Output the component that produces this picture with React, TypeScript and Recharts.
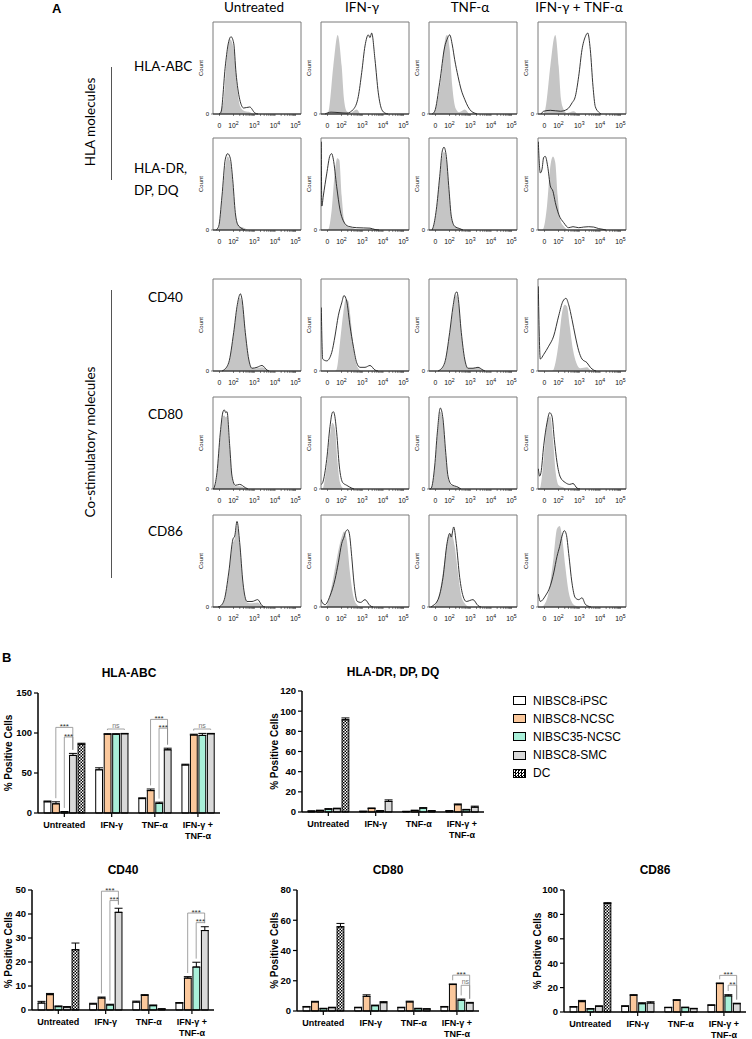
import React from 'react';
import {
  ComposedChart, BarChart, Bar, Area, Line, XAxis, YAxis, ErrorBar, Cell,
  ReferenceArea, ReferenceLine, ReferenceDot,
} from 'recharts';

const SANS = '"Liberation Sans", Arial, sans-serif';
const LATO = 'Lato, "Open Sans", sans-serif';

// ---------- panel A : flow histograms (x in display channels 0-88, y in % of max) ----------
const treatments = ['Untreated', 'IFN-γ', 'TNF-α', 'IFN-γ + TNF-α'];
const markerLabels = [['HLA-ABC'], ['HLA-DR,', 'DP, DQ'], ['CD40'], ['CD80'], ['CD86']];

const abcUntIso = [[6, 0], [10.7, 16], [14, 63], [17.3, 81], [20.7, 70], [24, 30], [27.3, 8], [32, 3], [37, 2], [40, 0]];
const abcUntStain = [[6, 0], [8, 2], [12.3, 52], [15, 75], [18, 84], [20.7, 77], [23, 45], [26.7, 16], [30.7, 6.5], [36.7, 7.6], [42, 1], [45, 0]];
const abcIfnIso = [[5, 0], [7.3, 2], [12.3, 52], [16.7, 86], [20.7, 52], [23, 16], [25.7, 3], [29, 1], [35.7, 5], [39, 0]];
const abcIfnStain = [[4, 0], [10, 2], [18, 1.5], [26, 1], [32.3, 5], [37.3, 19], [40.7, 45], [44, 74], [47.3, 86], [49, 83], [50.7, 88], [54, 59], [57.3, 23], [60.7, 5], [64, 1], [67, 0]];
const abcTnfIso = [[4, 0], [7.3, 8], [12.3, 41], [16.7, 84], [18, 86], [20.7, 70], [23.3, 30], [26.7, 6], [30, 2], [35.7, 5], [40, 0]];
const abcTnfStain = [[3, 0], [5.7, 3], [10.7, 34], [15.7, 73], [18, 81], [20.7, 86], [23.3, 75], [25.7, 59], [29, 41], [32.3, 26], [35.7, 16], [39, 8], [42.3, 3], [45.7, 1], [48, 0]];
const abcBothIso = [[5, 0], [7.3, 5], [12.3, 52], [16.3, 84], [17.3, 86], [20.7, 52], [23, 16], [25.7, 5], [29, 1], [35.7, 3], [39, 0]];
const abcBothStain = [[3, 0], [5.7, 3], [12.3, 4], [22.3, 3], [29, 5], [34, 12], [37.3, 19], [40.7, 41], [44, 70], [47.3, 84], [49.7, 88], [52.3, 70], [55, 30], [57.3, 8], [60.7, 2], [63, 0]];

const drUntIso = [[3, 0], [5.7, 2], [9, 31], [12.3, 69], [14.7, 80], [17.3, 73], [19.7, 49], [22.3, 17], [25.7, 5], [30.7, 2.5], [35, 0]];
const drUntStain = [[3, 0], [5.7, 4], [9, 37], [12.3, 77], [14.7, 83], [17.3, 78], [19.7, 55], [22.3, 19], [24.7, 6], [29, 1.5], [32, 0]];
const drIfnIso = [[6, 0], [7.3, 0.5], [10.7, 22], [14, 65], [16.3, 78], [18.3, 76], [20.7, 37], [23, 11], [25.7, 4], [32.3, 2], [38, 0]];
const drIfnStain = [[0.3, 96], [0.8, 26], [2.3, 37], [5.7, 61], [9, 81], [10.7, 83], [12.3, 77], [15.7, 47], [19, 22], [22.3, 10], [27.3, 4], [35.7, 2.5], [49, 2], [54, 0.5], [58, 0]];
const drTnfIso = [[3, 0], [4, 2], [7.3, 20], [10.7, 54], [13.3, 80], [15, 85], [17.3, 76], [20, 42], [22.3, 14], [25.7, 4], [30.7, 1.5], [34, 0]];
const drTnfStain = [[3, 0], [4, 2.5], [7.3, 22], [10.7, 58], [13.3, 86], [15, 90], [17.3, 80], [20, 44], [22.3, 15], [25.7, 4], [30.7, 1.5], [34, 0]];
const drBothIso = [[4, 0], [5.7, 2.5], [9, 26], [12.3, 69], [15, 80], [17.3, 73], [19.7, 37], [22.3, 11], [25.7, 4], [30, 0]];
const drBothStain = [[0.3, 96], [2.3, 62], [4, 66], [5.7, 79], [7.3, 80], [9.7, 69], [12.3, 48], [15, 42], [17.3, 30], [20.7, 17], [25.7, 8], [30.7, 2.5], [35, 3.6], [40.7, 2.5], [45.7, 3.2], [50.7, 3.6], [55.7, 3.2], [60.7, 1.5], [65, 0.7], [68, 0]];

const cd40UntIso = [[9, 0], [10.7, 1], [15.7, 8], [20.7, 40], [24, 67], [26.7, 80], [29, 75], [32.3, 40], [35.7, 12], [39, 3], [44, 3], [49, 4], [54, 1], [56, 0]];
const cd40UntStain = [[9, 0], [10.7, 1], [15.7, 9], [20.7, 42], [24, 70], [26.7, 83], [27.3, 84], [29, 78], [32.3, 42], [35.7, 13], [39, 3], [44, 4], [49, 6], [54, 1], [56, 0]];
const cd40IfnIso = [[14, 0], [15.7, 2], [19, 31], [22.3, 63], [24.7, 78], [27.3, 76], [29.7, 56], [32.3, 27], [35, 9], [37.3, 3], [40, 0]];
const cd40IfnStain = [[0.3, 69], [1.7, 13], [5.7, 11], [10.7, 20], [14, 38], [17.3, 60], [20.7, 74], [23, 82], [25.7, 76], [29, 49], [32.3, 27], [35.7, 9], [39, 4], [44, 4], [49, 6], [54, 1], [57, 0]];
const cd40TnfIso = [[9, 0], [10.7, 1], [15.7, 8], [20.7, 40], [24, 67], [26.7, 82], [28, 82], [29, 78], [32.3, 40], [35.7, 12], [39, 3], [44, 3], [49, 4], [54, 1], [56, 0]];
const cd40TnfStain = [[9, 0], [10.7, 1], [15.7, 9], [20.7, 42], [24, 70], [26.7, 85], [28, 86], [29, 81], [32.3, 42], [35.7, 13], [39, 3], [44, 3], [49, 4], [54, 1], [56, 0]];
const cd40BothIso = [[14, 0], [15.7, 2], [20.7, 31], [24, 63], [26.7, 72], [29, 70], [31.7, 49], [35, 23], [38.3, 9], [42.3, 3], [49, 4], [52.3, 1], [55, 0]];
const cd40BothStain = [[0.3, 92], [2.3, 13], [5.7, 18], [10.7, 27], [15.7, 38], [20.7, 60], [25, 76], [28, 79], [30.7, 72], [34, 56], [37.3, 38], [40.7, 22], [44, 13], [49, 9], [52.3, 4], [55.7, 1], [58, 0]];

const cd80UntIso = [[0.5, 0], [1.3, 2], [4, 15], [7.3, 56], [10, 79], [11.3, 80], [12.7, 78], [14, 79], [16.7, 43], [19, 12], [22.3, 3], [26.7, 3], [32.3, 1], [35, 0]];
const cd80UntStain = [[0.5, 0], [1.3, 2], [4, 18], [7.3, 61], [10, 84], [11.3, 86], [12.7, 83], [14, 84], [16.7, 47], [19, 14], [22.3, 4], [26.7, 5], [32.3, 1.5], [35, 0]];
const cd80IfnIso = [[1, 0], [2.3, 2], [5.7, 25], [9, 58], [11.3, 72], [14, 65], [16.3, 32], [19, 7], [22, 1], [25, 0]];
const cd80IfnStain = [[0.3, 5], [1.7, 7], [5.7, 32], [9, 68], [11.3, 83], [12.3, 84], [13.3, 82], [15.7, 61], [18.3, 25], [21.7, 7], [25.7, 4], [30.7, 1], [33, 0]];
const cd80TnfIso = [[1, 0], [2.3, 1], [5.7, 22], [8.3, 57], [11.3, 84], [14, 72], [16.7, 37], [19, 12], [22.3, 4], [29, 1.5], [32, 0]];
const cd80TnfStain = [[1, 0], [2.3, 1], [5.7, 25], [8.3, 61], [11.3, 88], [14, 76], [16.7, 40], [19, 14], [22.3, 5], [29, 2], [32, 0]];
const cd80BothIso = [[1, 0], [2.3, 2], [5, 25], [7.3, 54], [9.7, 76], [12.3, 79], [15, 54], [17.7, 18], [20.7, 4], [25.7, 1.5], [28, 0]];
const cd80BothStain = [[0.3, 22], [1.7, 14], [3, 18], [5.7, 47], [9, 72], [11.7, 83], [14, 79], [16.3, 54], [19, 29], [22.3, 13], [27.3, 7], [31.7, 5], [35, 6], [39, 1], [42, 0]];

const cd86UntIso = [[5, 0], [7.3, 1], [11.3, 7], [15.7, 34], [20, 70], [21.7, 74], [24, 88], [26.7, 66], [30, 23], [34, 5], [39, 4], [44.7, 5], [49, 1], [52, 0]];
const cd86UntStain = [[5, 0], [7.3, 1], [11.3, 8], [15.7, 37], [20, 74], [21.7, 77], [24, 93], [26.7, 70], [30, 26], [34, 6], [39, 6], [44.7, 8], [49, 1.5], [52, 0]];
const cd86IfnIso = [[4, 0], [5.7, 1.5], [10.7, 23], [15.7, 52], [20.7, 76], [23, 82], [25.7, 73], [29, 37], [32.3, 12], [35.7, 3], [40, 0]];
const cd86IfnStain = [[0.3, 8], [0.7, 6], [4, 2.5], [9, 12], [14, 30], [17.3, 48], [20.7, 69], [23, 76], [24.7, 82], [26.7, 84], [28.3, 80], [30.7, 55], [33, 26], [36.3, 6], [39.7, 5], [44, 8], [49, 1.5], [52, 0]];
const cd86TnfIso = [[4, 0], [5.7, 1.5], [10.7, 16], [15.7, 51], [19, 76], [22.3, 80], [25.7, 66], [29, 37], [32.3, 12], [35.7, 4], [40, 0]];
const cd86TnfStain = [[2, 0], [4, 1.5], [9, 8], [14, 32], [18, 69], [20.7, 80], [22.3, 76], [24.7, 87], [27.3, 69], [30.7, 32], [34, 12], [37.3, 6], [44, 8], [49, 1.5], [52, 0]];
const cd86BothIso = [[4, 0], [5.7, 1.5], [10.7, 16], [15.7, 55], [19, 85], [21.7, 88], [24, 77], [27.3, 44], [30.7, 16], [34, 5], [37, 1.5], [40, 0]];
const cd86BothStain = [[0.3, 14], [0.7, 12], [2.3, 6], [7.3, 12], [12.3, 23], [15.7, 37], [19, 55], [21.7, 66], [24, 77], [26.3, 83], [28.3, 79], [30.7, 58], [34, 26], [37.3, 10], [40.7, 8], [44, 10], [47.3, 3], [50, 1], [53, 0]];

const histRows = [
  [[abcUntIso, abcUntStain], [abcIfnIso, abcIfnStain], [abcTnfIso, abcTnfStain], [abcBothIso, abcBothStain]],
  [[drUntIso, drUntStain], [drIfnIso, drIfnStain], [drTnfIso, drTnfStain], [drBothIso, drBothStain]],
  [[cd40UntIso, cd40UntStain], [cd40IfnIso, cd40IfnStain], [cd40TnfIso, cd40TnfStain], [cd40BothIso, cd40BothStain]],
  [[cd80UntIso, cd80UntStain], [cd80IfnIso, cd80IfnStain], [cd80TnfIso, cd80TnfStain], [cd80BothIso, cd80BothStain]],
  [[cd86UntIso, cd86UntStain], [cd86IfnIso, cd86IfnStain], [cd86TnfIso, cd86TnfStain], [cd86BothIso, cd86BothStain]],
];

// axis of the histograms: 0, 10^2 ... 10^5
const histMajor = [6.5, 20.5, 41.3, 62, 82.5];
const histExp = ['', '2', '3', '4', '5'];

// ---------- panel B : bar charts ----------
const groups = [['Untreated'], ['IFN-γ'], ['TNF-α'], ['IFN-γ +', 'TNF-α']];
const seriesNames = ['NIBSC8-iPSC', 'NIBSC8-NCSC', 'NIBSC35-NCSC', 'NIBSC8-SMC', 'DC'];
const seriesFills = ['#ffffff', '#fbc89c', '#a9f0d9', '#d9d9d9', 'url(#dcChecker)'];

const abcMeans = [[14, 54, 18, 60], [11.5, 98.5, 28, 97.5], [1.5, 98.5, 12, 97], [72, 99, 79, 99], [86, null, null, null]];
const abcErrors = [[1, 2.5, 1, 1], [2.5, 0.6, 2, 1], [0.3, 0.6, 1.5, 2.5], [2.5, 0.5, 2, 0.5], [1.2, null, null, null]];
const abcMarks = [
  { g: 0, from: 1, to: 3, y: 107, text: '***' },
  { g: 0, from: 2, to: 3, y: 95, text: '***' },
  { g: 1, from: 1, to: 3, y: 105, text: 'ns' },
  { g: 2, from: 1, to: 3, y: 117, text: '***' },
  { g: 2, from: 2, to: 3, y: 106, text: '***' },
  { g: 3, from: 1, to: 3, y: 105, text: 'ns' },
];

const drMeans = [[0.8, 0.6, 0.5, 1], [1.5, 3.5, 1.5, 7.2], [2.8, 1, 3.8, 2.2], [3.3, 10.5, 1, 4.8], [91.5, null, null, null]];
const drErrors = [[0.3, 0.2, 0.2, 0.3], [0.3, 0.5, 0.3, 0.8], [0.5, 0.3, 0.5, 0.4], [0.5, 1.5, 0.3, 1], [1.8, null, null, null]];

const cd40Means = [[2.9, 2.5, 3.3, 2.9], [6.4, 5, 6.1, 13.3], [1.4, 2.1, 1.8, 17.9], [1.2, 40.7, 0.4, 33.1], [25.1, null, null, null]];
const cd40Errors = [[0.7, 0.3, 0.4, 0.2], [0.5, 0.4, 0.3, 0.6], [0.3, 0.3, 0.3, 2], [0.2, 1.7, 0.1, 1.6], [2.8, null, null, null]];
const cd40Marks = [
  { g: 1, from: 1, to: 3, y: 49.5, text: '***' },
  { g: 1, from: 2, to: 3, y: 45.6, text: '***' },
  { g: 3, from: 1, to: 3, y: 40.4, text: '***' },
  { g: 3, from: 2, to: 3, y: 36.4, text: '***' },
];

const cd80Means = [[2.7, 2.2, 2.2, 2.7], [6, 9.7, 6, 17.5], [1.5, 3.5, 1.5, 7.1], [2.2, 5.5, 1.3, 5.3], [55.7, null, null, null]];
const cd80Errors = [[0.3, 0.3, 0.3, 0.3], [0.4, 1, 0.5, 0.4], [0.3, 0.4, 0.3, 0.8], [0.3, 0.7, 0.2, 0.4], [2.2, null, null, null]];
const cd80Marks = [
  { g: 3, from: 1, to: 3, y: 23.7, text: '***' },
  { g: 3, from: 2, to: 3, y: 17, text: 'ns' },
];

const cd86Means = [[4.1, 4.7, 3.6, 5.5], [8.5, 13.7, 9.6, 23.3], [2.5, 6.8, 3.6, 13.2], [4.7, 7.4, 2.7, 6.8], [89, null, null, null]];
const cd86Errors = [[0.4, 0.4, 0.3, 0.4], [1, 0.5, 0.5, 0.5], [0.3, 0.8, 0.4, 1], [0.3, 1, 0.3, 0.4], [0.6, null, null, null]];
const cd86Marks = [
  { g: 3, from: 1, to: 3, y: 30, text: '***' },
  { g: 3, from: 2, to: 3, y: 22, text: '**' },
];

const barPanels = [
  { title: 'HLA-ABC', left: 38, top: 693, h: 120, titleY: 673, yMax: 150, ticks: [0, 50, 100, 150], means: abcMeans, errors: abcErrors, marks: abcMarks, gap: 30 },
  { title: 'HLA-DR, DP, DQ', left: 302, top: 691, h: 121, titleY: 672, yMax: 120, ticks: [0, 20, 40, 60, 80, 100, 120], means: drMeans, errors: drErrors, marks: [], gap: 28 },
  { title: 'CD40', left: 32, top: 890, h: 120, titleY: 870, yMax: 50, ticks: [0, 10, 20, 30, 40, 50], means: cd40Means, errors: cd40Errors, marks: cd40Marks, gap: 24 },
  { title: 'CD80', left: 297, top: 890, h: 121, titleY: 870, yMax: 80, ticks: [0, 20, 40, 60, 80], means: cd80Means, errors: cd80Errors, marks: cd80Marks, gap: 23 },
  { title: 'CD86', left: 564, top: 890, h: 122, titleY: 870, yMax: 100, ticks: [0, 20, 40, 60, 80, 100], means: cd86Means, errors: cd86Errors, marks: cd86Marks, gap: 27 },
];

const colLeft = [213, 321, 429, 538];
const rowTop = [22, 138, 279, 397, 515];
const BOX_W = 88;
const BOX_H = 92;
const PLOT_W = 182;
const GROUP_GAP = 1.08;

const toPts = (arr) => arr.map(([x, y]) => ({ x, y }));

const histMinor = [];
for (let d = 1; d < 4; d++) {
  for (let k = 2; k < 10; k++) histMinor.push(histMajor[d] + (histMajor[d + 1] - histMajor[d]) * Math.log10(k));
}
const histTicks = [...histMajor, ...histMinor].sort((a, b) => a - b);

const renderLogTick = (props) => {
  const { x, y, payload } = props;
  const i = histMajor.indexOf(payload.value);
  if (i < 0) return <g />;
  return (
    <text x={x} y={y + 10} textAnchor="middle" fontSize={6.8} fontFamily={SANS} fill="#111">
      {i === 0 ? '0' : (<>10<tspan dy={-3} fontSize={5.2}>{histExp[i]}</tspan></>)}
    </text>
  );
};

function Histogram({ left, top, iso, stain }) {
  return (
    <div style={{ position: 'absolute', left: left - 18, top: top - 2 }}>
      <ComposedChart width={18 + BOX_W + 4} height={2 + BOX_H + 20} margin={{ top: 2, right: 4, left: 0, bottom: 0 }}>
        <XAxis type="number" dataKey="x" domain={[0, BOX_W]} ticks={histTicks} interval={0} allowDataOverflow
          tick={renderLogTick} tickSize={2} height={20} axisLine={{ stroke: '#222' }} tickLine={{ stroke: '#333', strokeWidth: 0.6 }} />
        <YAxis type="number" domain={[0, 100]} ticks={[0]} width={18} tickSize={2} axisLine={false}
          tickLine={{ stroke: '#333', strokeWidth: 0.6 }} tick={{ fontSize: 6, fill: '#111', fontFamily: SANS }}
          label={{ value: 'Count', angle: -90, position: 'insideLeft', offset: 6, style: { fontSize: 6, textAnchor: 'middle', fill: '#111', fontFamily: SANS } }} />
        <Area data={toPts(iso)} dataKey="y" type="monotone" fill="#c5c5c5" fillOpacity={1} stroke="none" isAnimationActive={false} />
        <Line data={toPts(stain)} dataKey="y" type="monotone" stroke="#1e1e1e" strokeWidth={0.9} dot={false} isAnimationActive={false} />
        <ReferenceArea x1={0} x2={BOX_W} y1={0} y2={100} fill="none" stroke="#7a7a7a" strokeWidth={1} />
      </ComposedChart>
    </div>
  );
}

function BarPanel({ p }) {
  const rows = [];
  const centers = [];
  let cursor = 0;
  groups.forEach((_, gi) => {
    const members = p.means.map((_, si) => si).filter((si) => p.means[si][gi] != null);
    members.forEach((si, k) => rows.push({ x: cursor + k, v: p.means[si][gi], e: [0, p.errors[si][gi]], si, gi }));
    centers.push(cursor + (members.length - 1) / 2);
    cursor += members.length + GROUP_GAP;
  });
  const lastX = rows[rows.length - 1].x;
  const find = (gi, si) => rows.find((r) => r.gi === gi && r.si === si);
  const pad = p.yMax * 0.03;

  const renderGroupTick = (props) => {
    const { x, y, payload } = props;
    const gi = centers.findIndex((c) => Math.abs(c - payload.value) < 1e-6);
    if (gi < 0) return <g />;
    return (
      <text x={x} y={y + 9} textAnchor="middle" fontSize={9} fontWeight={700} fontFamily={SANS} fill="#000">
        {groups[gi].map((line, li) => (
          <tspan key={li} x={x} dy={li === 0 ? 0 : 10.5}>{line}</tspan>
        ))}
      </text>
    );
  };

  return (
    <>
      <div style={{ position: 'absolute', left: p.left + PLOT_W / 2, top: p.titleY, transform: 'translate(-50%, -50%)', font: `700 12px ${SANS}`, whiteSpace: 'nowrap' }}>{p.title}</div>
      <div style={{ position: 'absolute', left: p.left - 40, top: p.top - 8 }}>
        <BarChart width={40 + PLOT_W + 8} height={8 + p.h + 34} data={rows} margin={{ top: 8, right: 8, left: 0, bottom: 0 }}>
          <XAxis type="number" dataKey="x" domain={[-1.1, lastX + 1.1]} ticks={centers} interval={0} allowDataOverflow
            tick={renderGroupTick} tickSize={4} height={34}
            axisLine={{ stroke: '#000', strokeWidth: 1.5 }} tickLine={{ stroke: '#000', strokeWidth: 1.2 }} />
          <YAxis type="number" domain={[0, p.yMax]} ticks={p.ticks} interval={0} width={40} tickSize={4}
            axisLine={{ stroke: '#000', strokeWidth: 1.5 }} tickLine={{ stroke: '#000', strokeWidth: 1.2 }}
            tick={{ fontSize: 9.5, fontWeight: 700, fill: '#000', fontFamily: SANS }}
            label={{ value: '% Positive Cells', angle: -90, position: 'insideLeft', offset: 40 - p.gap, style: { fontSize: 10, fontWeight: 700, textAnchor: 'middle', fill: '#000', fontFamily: SANS } }} />
          <Bar dataKey="v" barSize={6.8} stroke="#000" strokeWidth={1} isAnimationActive={false}>
            {rows.map((r, i) => <Cell key={i} fill={seriesFills[r.si]} />)}
            <ErrorBar dataKey="e" width={4} stroke="#000" strokeWidth={1} direction="y" />
          </Bar>
          {p.marks.map((m, i) => {
            const a = find(m.g, m.from);
            const b = find(m.g, m.to);
            const legA = a.v + a.e[1] + pad;
            const legB = b.v + b.e[1] + pad;
            const isNs = m.text === 'ns';
            return (
              <React.Fragment key={i}>
                <ReferenceLine segment={[{ x: a.x, y: m.y }, { x: b.x, y: m.y }]} stroke="#8a8a8a" strokeWidth={0.8} />
                {legA < m.y && <ReferenceLine segment={[{ x: a.x, y: m.y }, { x: a.x, y: legA }]} stroke="#8a8a8a" strokeWidth={0.8} />}
                {legB < m.y && <ReferenceLine segment={[{ x: b.x, y: m.y }, { x: b.x, y: legB }]} stroke="#8a8a8a" strokeWidth={0.8} />}
                <ReferenceDot x={(a.x + b.x) / 2} y={m.y} r={1}
                  shape={(s) => (
                    <text x={s.cx} y={s.cy + (isNs ? -1.5 : 1.8)} textAnchor="middle" fontSize={isNs ? 7 : 8}
                      fontFamily={SANS} fill={isNs ? '#777' : '#333'}>{m.text}</text>
                  )} />
              </React.Fragment>
            );
          })}
        </BarChart>
      </div>
    </>
  );
}

const legendY = [700.7, 718.8, 736.9, 755, 773.1];

export default function App() {
  return (
    <div style={{ position: 'absolute', left: 0, top: 0, width: 752, height: 1039, background: '#fff', overflow: 'hidden', fontFamily: SANS }}>
      <svg width={0} height={0} style={{ position: 'absolute' }}>
        <defs>
          <pattern id="dcChecker" width={3} height={3} patternUnits="userSpaceOnUse">
            <rect width={3} height={3} fill="#fff" />
            <rect width={1.5} height={1.5} fill="#000" />
            <rect x={1.5} y={1.5} width={1.5} height={1.5} fill="#000" />
          </pattern>
        </defs>
      </svg>

      {/* panel A */}
      <div style={{ position: 'absolute', left: 52, top: 1, font: `700 13px ${SANS}` }}>A</div>
      {treatments.map((t, ci) => (
        <div key={t} style={{ position: 'absolute', left: colLeft[ci] + BOX_W / 2 - 3, top: 7, transform: 'translate(-50%, -50%)', font: `13.5px ${LATO}`, whiteSpace: 'nowrap' }}>{t}</div>
      ))}
      {markerLabels.map((lines, ri) => (
        <div key={ri} style={{ position: 'absolute', left: ri < 2 ? 134 : 148, top: [66, 168, 297, 414, 531][ri] - 11, font: `13.5px ${LATO}`, lineHeight: '22px', whiteSpace: 'nowrap' }}>
          {lines.map((l) => <div key={l}>{l}</div>)}
        </div>
      ))}
      <div style={{ position: 'absolute', left: 90, top: 122, transform: 'translate(-50%, -50%) rotate(-90deg)', font: `13.5px ${LATO}`, whiteSpace: 'nowrap' }}>HLA molecules</div>
      <div style={{ position: 'absolute', left: 111, top: 67, width: 1, height: 113, background: '#555' }} />
      <div style={{ position: 'absolute', left: 90, top: 442, transform: 'translate(-50%, -50%) rotate(-90deg)', font: `13.5px ${LATO}`, whiteSpace: 'nowrap' }}>Co-stimulatory molecules</div>
      <div style={{ position: 'absolute', left: 111, top: 290, width: 1, height: 288, background: '#555' }} />
      {histRows.map((row, ri) => row.map(([iso, stain], ci) => (
        <Histogram key={`${ri}-${ci}`} left={colLeft[ci]} top={rowTop[ri]} iso={iso} stain={stain} />
      )))}

      {/* panel B */}
      <div style={{ position: 'absolute', left: 2, top: 650, font: `700 13px ${SANS}` }}>B</div>
      {barPanels.map((p) => <BarPanel key={p.title} p={p} />)}
      {seriesNames.map((n, i) => (
        <React.Fragment key={n}>
          <div style={{
            position: 'absolute', left: 513, top: legendY[i] - 4.5, width: 11, height: 7, border: '1px solid #000',
            background: i === 4 ? 'repeating-conic-gradient(#000 0 25%, #fff 0 50%) 0 0 / 3px 3px' : seriesFills[i],
          }} />
          <div style={{ position: 'absolute', left: 533, top: legendY[i] - 7, font: `12px ${SANS}`, lineHeight: '14px', whiteSpace: 'nowrap' }}>{n}</div>
        </React.Fragment>
      ))}
    </div>
  );
}
